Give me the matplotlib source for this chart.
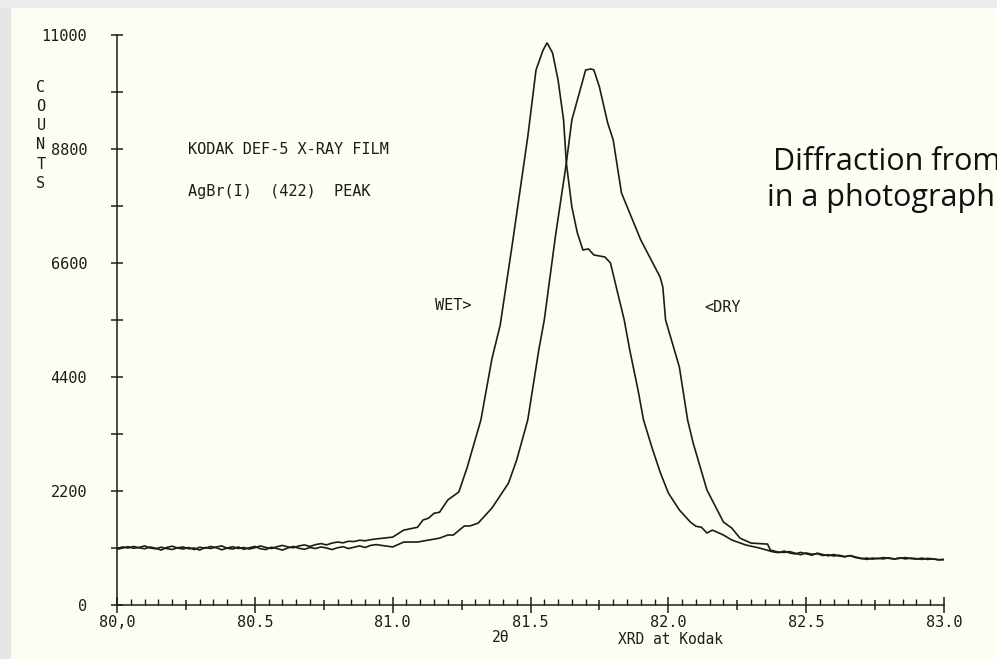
import matplotlib.pyplot as plt
import numpy as np
from matplotlib.patches import Rectangle

# 2-theta (deg) / counts
wet_2theta = [80.00, 80.02, 80.04, 80.06, 80.08, 80.10, 80.12, 80.14, 80.16, 80.18,
              80.20, 80.22, 80.24, 80.26, 80.28, 80.30, 80.32, 80.34, 80.36, 80.38,
              80.40, 80.42, 80.44, 80.46, 80.48, 80.50, 80.52, 80.54, 80.56, 80.58,
              80.60, 80.62, 80.64, 80.66, 80.68, 80.70, 80.72, 80.74, 80.76, 80.78,
              80.80, 80.82, 80.84, 80.86, 80.88, 80.90, 80.92, 80.94,
              81.00, 81.04, 81.09, 81.11, 81.13, 81.15, 81.17, 81.20, 81.24, 81.27,
              81.32, 81.36, 81.39, 81.435, 81.49, 81.52, 81.545, 81.56, 81.58, 81.60,
              81.62, 81.63, 81.65, 81.67, 81.69, 81.71, 81.73, 81.77, 81.79, 81.84,
              81.86, 81.89, 81.91, 81.94, 81.97, 82.00, 82.04, 82.08, 82.10, 82.12,
              82.14, 82.16, 82.20, 82.23, 82.28, 82.33, 82.38,
              82.40, 82.42, 82.44, 82.46, 82.48, 82.50, 82.52, 82.54, 82.56, 82.58,
              82.60, 82.62, 82.64, 82.66, 82.68, 82.70, 82.72, 82.74, 82.76, 82.78,
              82.80, 82.82, 82.84, 82.86, 82.88, 82.90, 82.92, 82.94, 82.96, 82.98,
              83.00]
wet_counts = [1090, 1120, 1100, 1130, 1105, 1085, 1120, 1095, 1060, 1110,
              1135, 1100, 1080, 1110, 1070, 1115, 1095, 1130, 1105, 1065,
              1100, 1125, 1090, 1110, 1080, 1105, 1140, 1110, 1090, 1125,
              1150, 1120, 1105, 1140, 1160, 1130, 1165, 1185, 1160, 1195,
              1215, 1200, 1230, 1225, 1250, 1240, 1260, 1275,
              1310, 1445, 1500, 1640, 1675, 1770, 1790, 2027, 2181, 2650,
              3570, 4750, 5400, 7000, 9033, 10325, 10700, 10850, 10654, 10133,
              9361, 8531, 7681, 7180, 6852, 6871, 6755, 6716, 6601, 5500,
              4922, 4150, 3571, 3049, 2567, 2162, 1834, 1600, 1520, 1500,
              1390, 1445, 1350, 1255, 1160, 1100, 1025,
              1010, 1040, 1005, 985, 1015, 990, 960, 1000, 975, 950,
              975, 945, 930, 955, 925, 900, 880, 905, 895, 915,
              900, 885, 910, 890, 905, 895, 880, 900, 890, 875,
              880]

dry_2theta = [80.00, 80.02, 80.04, 80.06, 80.08, 80.10, 80.12, 80.14, 80.16, 80.18,
              80.20, 80.22, 80.24, 80.26, 80.28, 80.30, 80.32, 80.34, 80.36, 80.38,
              80.40, 80.42, 80.44, 80.46, 80.48, 80.50, 80.52, 80.54, 80.56, 80.58,
              80.60, 80.62, 80.64, 80.66, 80.68, 80.70, 80.72, 80.74, 80.76, 80.78,
              80.80, 80.82, 80.84, 80.86, 80.88, 80.90, 80.92, 80.94,
              81.00, 81.04, 81.09, 81.17, 81.20, 81.22, 81.26, 81.28, 81.31, 81.36,
              81.42, 81.45, 81.49, 81.53, 81.55, 81.59, 81.63, 81.65, 81.69, 81.70,
              81.72, 81.73, 81.75, 81.78, 81.80, 81.83, 81.90, 81.97, 81.98, 81.99,
              82.04, 82.07, 82.09, 82.14, 82.20, 82.23, 82.26, 82.30, 82.36, 82.37,
              82.40,
              82.42, 82.44, 82.46, 82.48, 82.50, 82.52, 82.54, 82.56, 82.58, 82.60,
              82.62, 82.64, 82.66, 82.68, 82.70, 82.72, 82.74, 82.76, 82.78, 82.80,
              82.82, 82.84, 82.86, 82.88, 82.90, 82.92, 82.94, 82.96, 82.98, 83.00]
dry_counts = [1075, 1100, 1125, 1095, 1110, 1140, 1100, 1085, 1115, 1090,
              1070, 1105, 1120, 1085, 1100, 1060, 1110, 1090, 1120, 1140,
              1095, 1080, 1120, 1075, 1105, 1130, 1085, 1070, 1115, 1090,
              1060, 1100, 1130, 1095, 1075, 1110, 1090, 1120, 1100, 1070,
              1105, 1125, 1090, 1115, 1140, 1110, 1150, 1165,
              1120, 1215, 1215, 1290, 1350, 1350, 1525, 1525, 1580, 1870,
              2350, 2800, 3570, 4920, 5500, 7100, 8530, 9360, 10130, 10325,
              10345, 10325, 9997, 9303, 8975, 7952, 7045, 6330, 6137, 5500,
              4593, 3570, 3127, 2220, 1600, 1485, 1290, 1195, 1175, 1060,
              1020,
              1015, 1030, 1000, 970, 1005, 980, 990, 955, 970, 945,
              960, 935, 950, 915, 895, 905, 885, 900, 890, 910,
              890, 900, 915, 895, 885, 905, 880, 890, 870, 875]

x_major = [80.0, 80.25, 80.5, 80.75, 81.0, 81.25, 81.5, 81.75, 82.0, 82.25, 82.5, 82.75, 83.0]
x_labels = ['80,0', '', '80.5', '', '81.0', '', '81.5', '', '82.0', '', '82.5', '', '83.0']
y_major = [0, 2200, 4400, 6600, 8800, 11000]
y_labels = ['0', '2200', '4400', '6600', '8800', '11000']

W, H = 997, 659
paper = '#fdfdf3'
ink = '#1c1c1c'
mono = 'DejaVu Sans Mono'

fig = plt.figure(figsize=(W / 100, H / 100), dpi=100, facecolor=paper)
# slide border showing at the top/left
fig.patches.append(Rectangle((0, 0), 10 / W, 1, transform=fig.transFigure, color='#e6e6e6', zorder=0))
fig.patches.append(Rectangle((0, 1 - 7 / H), 1, 7 / H, transform=fig.transFigure, color='#ececec', zorder=0))

ax = fig.add_axes([117 / W, 1 - 605 / H, (944 - 117) / W, (605 - 35) / H])
ax.set_facecolor('none')

ax.plot(wet_2theta, wet_counts, color=ink, lw=1.2, solid_joinstyle='miter')
ax.plot(dry_2theta, dry_counts, color=ink, lw=1.2, solid_joinstyle='miter')

ax.set_xlim(80, 83)
ax.set_ylim(0, 11000)

for s in ['top', 'right']:
    ax.spines[s].set_visible(False)
for s in ['left', 'bottom']:
    ax.spines[s].set_color(ink)
    ax.spines[s].set_linewidth(1.1)

ax.set_xticks(x_major)
ax.set_xticklabels(x_labels, family=mono, fontsize=11, color=ink)
ax.set_xticks(np.arange(80, 83.001, 0.05), minor=True)
ax.set_yticks(y_major)
ax.set_yticklabels(y_labels, family=mono, fontsize=11, color=ink)
ax.set_yticks(np.arange(1100, 11000, 2200), minor=True)

ax.tick_params(axis='x', which='major', direction='inout', length=11, width=1.1, color=ink, pad=1.5)
ax.tick_params(axis='x', which='minor', direction='in', length=4, width=1.0, color=ink)
ax.tick_params(axis='y', which='both', direction='inout', length=9, width=1.1, color=ink, pad=17)

# quarter ticks are shorter than the half ticks
for t, v in zip(ax.xaxis.get_major_ticks(), x_major):
    if abs(v * 2 - round(v * 2)) > 1e-6:
        t.tick1line.set_markersize(7)

# stacked "COUNTS" label
for i, ch in enumerate('COUNTS'):
    fig.text(41 / W, 1 - (87 + 19.3 * i) / H, ch, family=mono, fontsize=11,
             color=ink, ha='center', va='center')

fig.text(501 / W, 1 - 638 / H, '2θ', family=mono, fontsize=10.5, color=ink, ha='center', va='center')
fig.text(670 / W, 1 - 640 / H, 'XRD at Kodak', family=mono, fontsize=10.5, color=ink, ha='center', va='center')

ax.text(80.257, 8800, 'KODAK DEF-5 X-RAY FILM', family=mono, fontsize=11, color=ink, va='center')
ax.text(80.257, 7980, 'AgBr(I)  (422)  PEAK', family=mono, fontsize=11, color=ink, va='center')
ax.text(81.221, 5783, 'WET>', family=mono, fontsize=11, color=ink, ha='center', va='center')
ax.text(82.196, 5744, '<DRY', family=mono, fontsize=11, color=ink, ha='center', va='center')

# slide caption, runs off the right edge as in the source slide
fig.text(773 / W, 1 - 170 / H, 'Diffraction from', family='Open Sans',
         fontsize=22, color='#111111', va='baseline')
fig.text(767 / W, 1 - 206 / H, 'in a photograph', family='Open Sans',
         fontsize=22, color='#111111', va='baseline')

fig.savefig('out.png', dpi=100, facecolor=paper)
